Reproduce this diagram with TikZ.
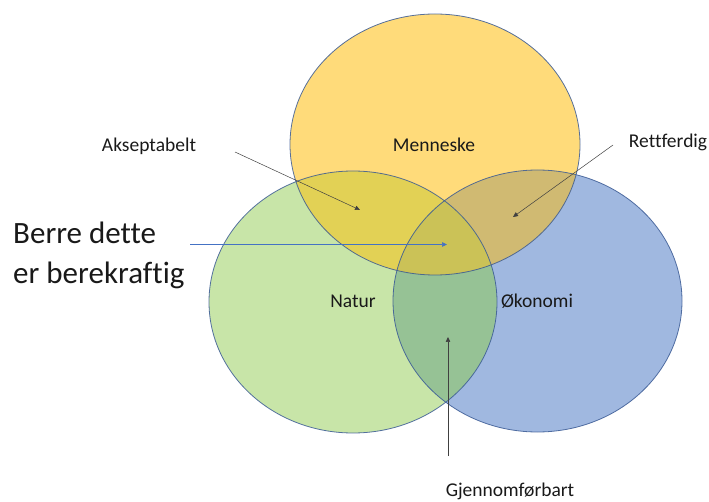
\documentclass[tikz,border=0pt]{standalone}
\usepackage{fontspec}
\setmainfont{Carlito}[Ligatures=NoCommon]
\usetikzlibrary{arrows.meta}

% fills of the three sets and their overlaps
\definecolor{menY}{HTML}{FFDB7A}
\definecolor{natG}{HTML}{C8E5A8}
\definecolor{okoB}{HTML}{A0B8E0}
\definecolor{ygCol}{HTML}{E2D155}
\definecolor{ybCol}{HTML}{D0BA72}
\definecolor{gbCol}{HTML}{96C295}
\definecolor{allCol}{HTML}{CBC257}
\definecolor{ringblue}{HTML}{3A5A94}
\definecolor{arrowblue}{HTML}{4472C4}

\begin{document}
\begin{tikzpicture}[x=1pt,y=-1pt,
  ring/.style={draw=ringblue, line width=0.8pt, draw opacity=0.85},
  lbl/.style={font=\fontsize{19.5}{23}\selectfont, inner sep=0pt, text=black!90, anchor=base},
  biglbl/.style={font=\fontsize{31}{40}\selectfont, inner sep=0pt, align=left, text=black!90},
  pointer/.style={draw=black!75, line width=0.5pt, -{Triangle[length=5pt,width=4.5pt]}},
  bluepointer/.style={draw=arrowblue, line width=0.6pt, -{Triangle[length=5pt,width=4.5pt]}},
]
\useasboundingbox (0,0) rectangle (709,502);

\def\topE{(435,144.5) ellipse [x radius=145pt, y radius=130.5pt]}
\def\leftE{(353,302) ellipse [x radius=144pt, y radius=131pt]}
\def\rightE{(537.5,301) ellipse [x radius=144.5pt, y radius=131pt]}

% single sets
\fill[natG] \leftE;
\fill[okoB] \rightE;
\fill[menY] \topE;
% pairwise overlaps
\begin{scope}\clip \leftE; \fill[ygCol] \topE; \end{scope}
\begin{scope}\clip \rightE; \fill[ybCol] \topE; \end{scope}
\begin{scope}\clip \leftE; \fill[gbCol] \rightE; \end{scope}
% common centre
\begin{scope}\clip \leftE; \clip \rightE; \fill[allCol] \topE; \end{scope}
% outlines
\draw[ring] \leftE;
\draw[ring] \rightE;
\draw[ring] \topE;

% set names
\node[lbl] (men) at (434,152) {Menneske};
\node[lbl] (nat) at (353,308) {Natur};
\node[lbl] (oko) at (537,308) {Økonomi};

% callouts
\node[lbl] (aks) at (149,152) {Akseptabelt};
\node[lbl] (ret) at (668,148) {Rettferdig};
\node[lbl] (gje) at (510,496) {Gjennomførbart};
\node[biglbl, anchor=west] (ber) at (13,255) {Berre dette\\er berekraftig};

\coordinate (aksS) at (235,152);
\coordinate (aksT) at (360,210);
\coordinate (retS) at (613,145);
\coordinate (retT) at (513,217);
\coordinate (berS) at (190,244.5);
\coordinate (berT) at (447,244.5);
\coordinate (gjeS) at (448,456);
\coordinate (gjeT) at (448,337);

\draw[pointer] (aksS) -- (aksT);
\draw[pointer] (retS) -- (retT);
\draw[pointer] (gjeS) -- (gjeT);
\draw[bluepointer] (berS) -- (berT);
\end{tikzpicture}
\end{document}
